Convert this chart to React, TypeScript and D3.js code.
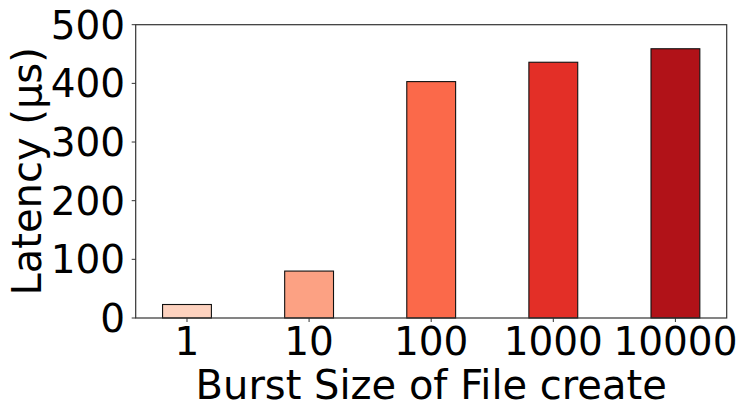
import React from "react";
import * as d3 from "d3";

const categories = ["1", "10", "100", "1000", "10000"];
const latency = [23, 80, 403, 436, 459];
const colors = ["#fdd2bf", "#fca183", "#fb694a", "#e32f27", "#b11218"];
const yTicks = [0, 100, 200, 300, 400, 500];

const W = 748, H = 417;
const left = 135.7, right = 726.7, top = 24.7, bottom = 318;
const FONT = "'DejaVu Sans', sans-serif";

export default function App() {
  const x = d3.scaleLinear().domain([-0.42, 4.42]).range([left, right]);
  const y = d3.scaleLinear().domain([0, 500]).range([bottom, top]);
  const bw = x(0.4) - x(0);
  return (
    <svg width={W} height={H} style={{ position: "absolute", left: 0, top: 0 }}>
      <rect width={W} height={H} fill="#fff" />
      {latency.map((v, i) => (
        <rect key={i} x={x(i) - bw / 2} y={y(v)} width={bw} height={y(0) - y(v)}
          fill={colors[i]} stroke="#111" strokeWidth={1.1} />
      ))}
      <rect x={left} y={top} width={right - left} height={bottom - top} fill="none" stroke="#333" strokeWidth={1.2} />
      {yTicks.map(t => (
        <g key={t}>
          <line x1={left - 4} x2={left} y1={y(t)} y2={y(t)} stroke="#333" strokeWidth={1} />
          <text x={left - 10.5} y={y(t)} dy="0.36em" textAnchor="end" fontFamily={FONT} fontSize={39} fill="#000">{t}</text>
        </g>
      ))}
      {categories.map((c, i) => (
        <g key={c}>
          <line x1={x(i)} x2={x(i)} y1={bottom} y2={bottom + 4} stroke="#333" strokeWidth={1} />
          <text x={x(i)} y={355} textAnchor="middle" fontFamily={FONT} fontSize={39} fill="#000">{c}</text>
        </g>
      ))}
      <text x={(left + right) / 2} y={399} textAnchor="middle" fontFamily={FONT} fontSize={40} fill="#000">Burst Size of File create</text>
      <text transform={`translate(41,${(top + bottom) / 2}) rotate(-90)`} textAnchor="middle" fontFamily={FONT} fontSize={40} fill="#000">Latency (μs)</text>
    </svg>
  );
}
